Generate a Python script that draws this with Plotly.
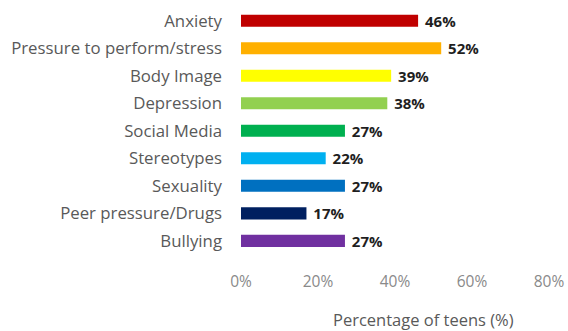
import plotly.graph_objects as go

categories = ["Anxiety", "Pressure to perform/stress", "Body Image", "Depression",
              "Social Media", "Stereotypes", "Sexuality", "Peer pressure/Drugs", "Bullying"]
values = [0.46, 0.52, 0.39, 0.38, 0.27, 0.22, 0.27, 0.17, 0.27]
colors = ["#C00000", "#FFB000", "#FFFF00", "#92D050", "#00B050",
          "#00B0F0", "#0070C0", "#002060", "#7030A0"]
tick_vals = [0, 0.2, 0.4, 0.6, 0.8]
tick_text = ["0%", "20%", "40%", "60%", "80%"]
axis_title = "Percentage of teens (%)"

fig = go.Figure(go.Bar(
    x=values, y=list(range(len(categories))), orientation="h",
    marker=dict(color=colors, line=dict(width=0)),
    text=["\u00a0" + f"{round(v*100)}%" for v in values],
    textposition="outside", cliponaxis=False, constraintext="none",
    textfont=dict(family="Open Sans", size=15, color="#1f1f1f", weight="bold"),
    width=0.44,
))

fig.add_annotation(text=axis_title, xref="paper", yref="paper",
                   x=0.594, y=-0.189, xanchor="center", yanchor="middle",
                   showarrow=False,
                   font=dict(family="Open Sans", size=16.5, color="#595959"))

fig.update_layout(
    width=568, height=331,
    margin=dict(l=241, r=19, t=7, b=61),
    paper_bgcolor="white", plot_bgcolor="white",
    showlegend=False,
    xaxis=dict(range=[0, 0.8], tickvals=tick_vals, ticktext=tick_text,
               showgrid=False, zeroline=False, showline=False, automargin=False,
               tickfont=dict(family="Open Sans", size=15.5, color="#8a8a8a")),
    yaxis=dict(range=[9.06, -0.5], tickvals=list(range(len(categories))),
               ticktext=categories, showgrid=False, zeroline=False, showline=False,
               ticklabelstandoff=18, automargin=False,
               tickfont=dict(family="Open Sans", size=16.8, color="#595959")),
)

fig.write_html("out.html", config={"displayModeBar": False},
               post_script="document.body.style.margin='0';document.body.style.overflow='hidden';")
